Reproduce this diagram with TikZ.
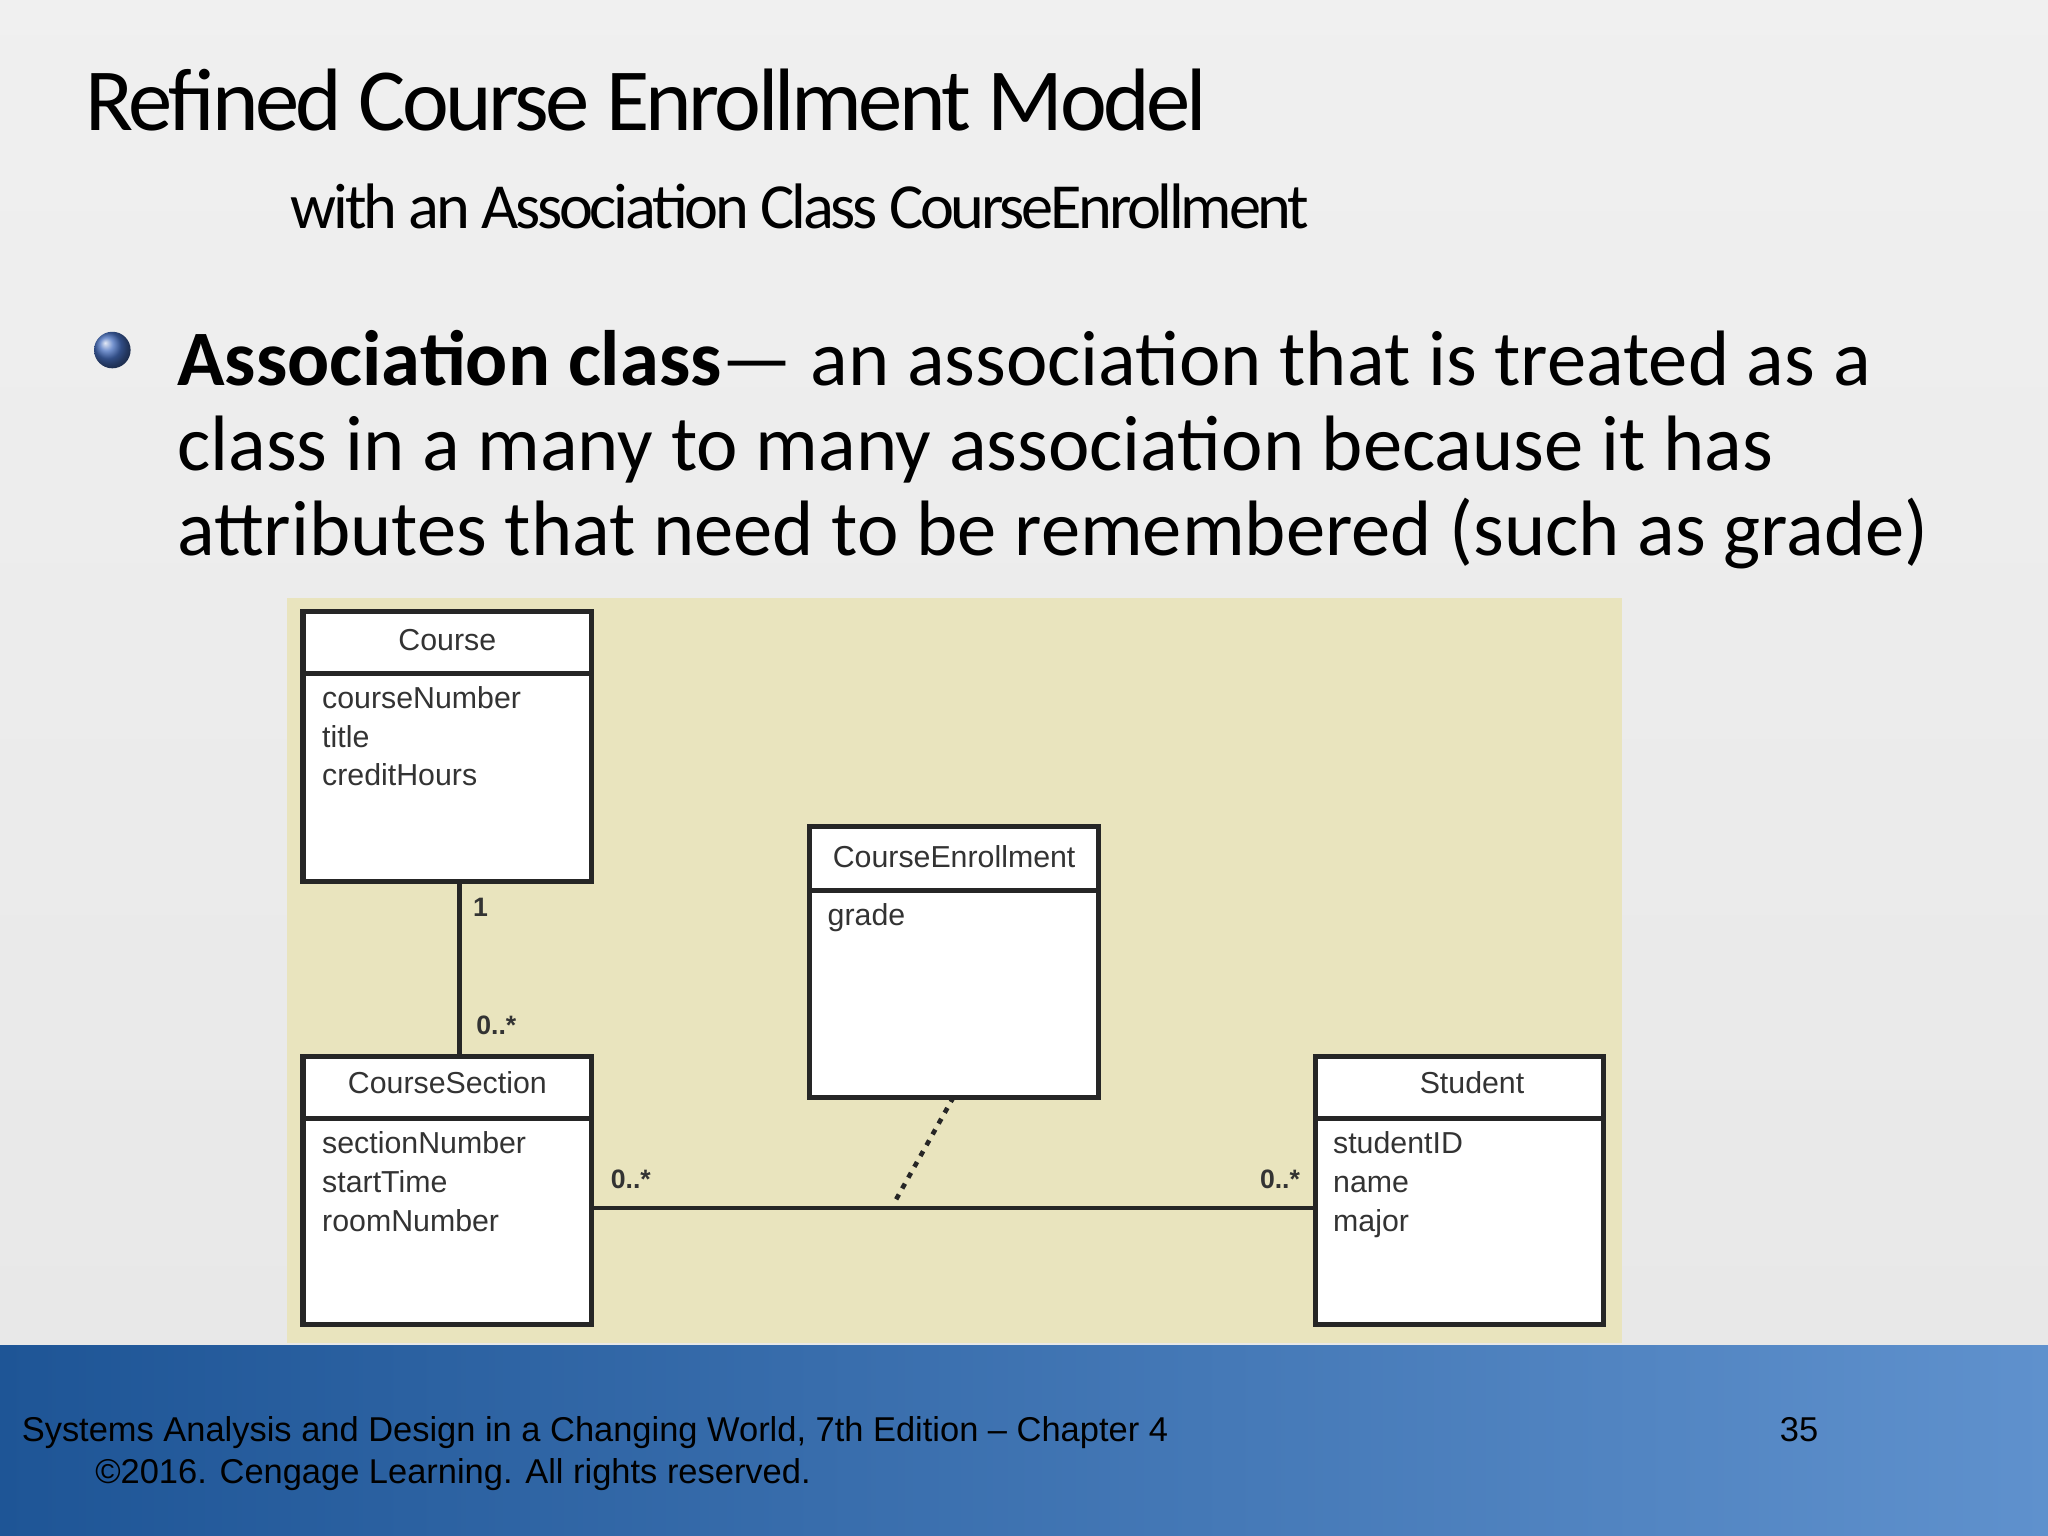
\documentclass[tikz,border=0pt]{standalone}
\usepackage{fontspec}
\setmainfont{Carlito}
\newfontfamily\arial{Liberation Sans}
\begin{document}
\begin{tikzpicture}[x=0.01cm,y=-0.01cm,
  cls/.style={draw=black!85,line width=1.1pt,fill=white},
  attr/.style={font=\arial\fontsize{6.6}{8.4}\selectfont,anchor=north west,align=left,inner sep=0pt,text=black!80},
  hdr/.style={font=\arial\fontsize{6.6}{8}\selectfont,inner sep=0pt,text=black!80},
  mult/.style={font=\arial\bfseries\fontsize{5.8}{7}\selectfont,inner sep=0pt,text=black!80}]
\useasboundingbox (0,0) rectangle (1568,1176);
\shade[top color=gray!12,bottom color=gray!18] (0,0) rectangle (1568,1030);
\shade[left color={rgb,255:red,30;green,85;blue,150},right color={rgb,255:red,95;green,145;blue,205}] (0,1030) rectangle (1568,1176);
\shade[top color={rgb,255:red,25;green,75;blue,140},bottom color={rgb,255:red,25;green,75;blue,140},opacity=0.0] (0,1030) rectangle (1568,1176);
% titles
\node[anchor=base west,inner sep=0pt,font=\fontsize{19.3}{24}\selectfont,text=black] (title) at (65,100) {\addfontfeatures{LetterSpace=-4}Refined Course Enrollment Model};
\node[anchor=base west,inner sep=0pt,font=\fontsize{14}{16}\selectfont,text=black] (sub) at (222,175) {\addfontfeatures{LetterSpace=-5}with an Association Class CourseEnrollment};
\shade[ball color={rgb,255:red,70;green,110;blue,190}] (86,268) circle (14);
\node[anchor=base west,inner sep=0pt,font=\fontsize{17.1}{18.5}\selectfont,align=left,text=black] (bul) at (135,425) {\textbf{Association class}— an association that is treated as a\\class in a many to many association because it has\\attributes that need to be remembered (such as grade)};
% panel
\fill[fill={rgb,255:red,233;green,228;blue,190}] (220,458) rectangle (1242,1028);
% boxes
\draw[cls] (232,468) rectangle (453,675); \draw[line width=1.1pt,black!85] (232,516)--(453,516);
\node[hdr] (c) at (342.5,490) {Course};
\node[attr] at (246,525) {courseNumber\\title\\creditHours};
\draw[cls] (620,633) rectangle (841,840); \draw[line width=1.1pt,black!85] (620,682)--(841,682);
\node[hdr] (ce) at (730.5,656) {CourseEnrollment};
\node[attr] at (633,691) {grade};
\draw[cls] (232,809) rectangle (453,1014); \draw[line width=1.1pt,black!85] (232,856)--(453,856);
\node[hdr] (cs) at (342.5,829) {CourseSection};
\node[attr] at (246,866) {sectionNumber\\startTime\\roomNumber};
\draw[cls] (1007,809) rectangle (1228,1014); \draw[line width=1.1pt,black!85] (1007,856)--(1228,856);
\node[hdr] (st) at (1127,829) {Student};
\node[attr] at (1020,866) {studentID\\name\\major};
% connectors
\coordinate (a1) at (352,675); \coordinate (a2) at (352,809);
\draw[line width=1pt,black!85] (a1)--(a2);
\coordinate (b1) at (453,925); \coordinate (b2) at (1007,925);
\draw[line width=1pt,black!85] (b1)--(b2);
\coordinate (d1) at (730,840); \coordinate (d2) at (684,922);
\draw[line width=1pt,black!85,dash pattern=on 1.2pt off 1.5pt] (d1)--(d2);
\node[mult] at (368,695) {1};
\node[mult] at (380,785) {0..*};
\node[mult] at (483,903) {0..*};
\node[mult] at (980,903) {0..*};
% footer
\node[anchor=base west,inner sep=0pt,font=\arial\fontsize{7.5}{9.1}\selectfont,text=black,align=left] (f1) at (16,1136) {Systems Analysis and Design in a Changing World, 7th Edition – Chapter 4\\\hspace*{16pt}©2016. Cengage Learning. All rights reserved.};
\node[anchor=base west,inner sep=0pt,font=\arial\fontsize{7.5}{9}\selectfont,text=black] (pg) at (1362,1104) {35};
\end{tikzpicture}
\end{document}
